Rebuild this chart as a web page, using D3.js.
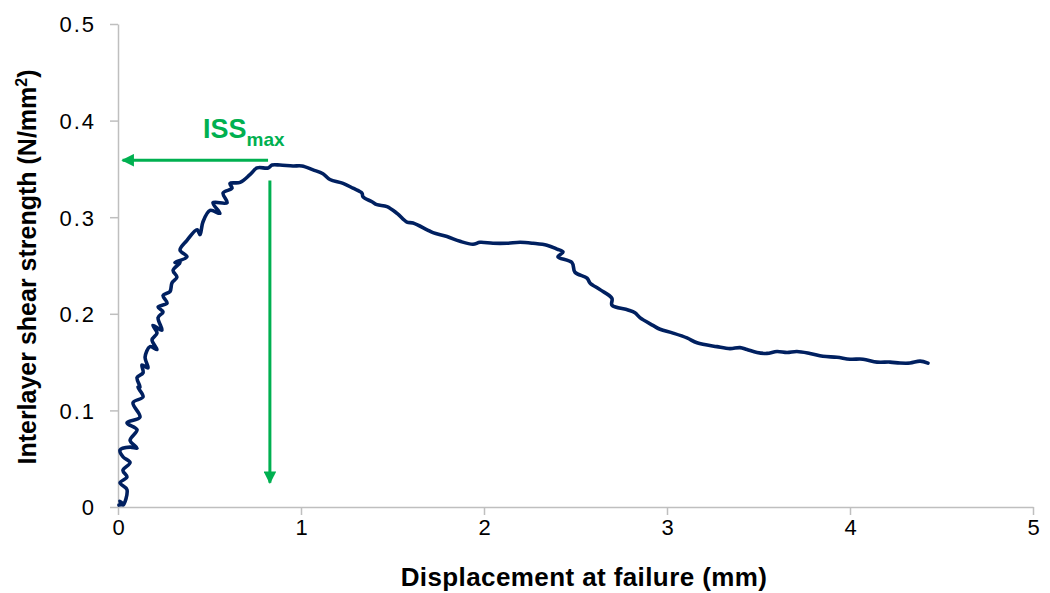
<!DOCTYPE html>
<html><head><meta charset="utf-8">
<script src="https://cdn.jsdelivr.net/npm/d3@7"></script>
<style>body{margin:0;background:#fff}svg{display:block}text{font-family:"Liberation Sans",Arial,sans-serif}</style>
</head><body><svg id="c" width="1050" height="593"></svg>
<script>
// displacement (mm)
const dispX = [0.005,0.025,0.010,0.027,0.049,0.011,0.049,0.027,0.066,0.027,0.011,0.066,0.104,0.066,0.104,0.049,0.120,0.082,0.137,0.109,0.120,0.104,0.137,0.131,0.164,0.148,0.175,0.213,0.186,0.213,0.191,0.240,0.219,0.246,0.219,0.268,0.246,0.284,0.295,0.322,0.301,0.339,0.311,0.377,0.339,0.377,0.432,0.448,0.464,0.503,0.557,0.519,0.596,0.574,0.623,0.612,0.667,0.721,0.760,0.820,0.842,0.885,0.956,1.005,1.066,1.120,1.158,1.230,1.284,1.333,1.339,1.388,1.415,1.470,1.525,1.579,1.612,1.689,1.721,1.798,1.869,1.940,1.978,2.049,2.126,2.197,2.268,2.344,2.399,2.432,2.404,2.481,2.497,2.563,2.579,2.634,2.699,2.699,2.787,2.825,2.852,2.923,2.962,3.033,3.109,3.164,3.273,3.344,3.399,3.437,3.492,3.546,3.601,3.656,3.710,3.781,3.852,3.929,4.000,4.071,4.148,4.219,4.273,4.328,4.383,4.426];
// interlayer shear strength (N/mm2)
const issY = [0.002,0.003,0.006,0.002,0.018,0.025,0.031,0.038,0.046,0.052,0.059,0.062,0.061,0.069,0.080,0.087,0.093,0.108,0.114,0.124,0.124,0.134,0.139,0.147,0.144,0.155,0.166,0.163,0.173,0.180,0.188,0.183,0.196,0.202,0.207,0.211,0.219,0.223,0.232,0.238,0.245,0.253,0.253,0.259,0.266,0.276,0.287,0.282,0.295,0.307,0.304,0.315,0.315,0.325,0.330,0.335,0.336,0.344,0.351,0.351,0.354,0.354,0.353,0.353,0.349,0.345,0.339,0.335,0.330,0.325,0.321,0.316,0.313,0.311,0.304,0.295,0.294,0.287,0.284,0.280,0.275,0.272,0.274,0.273,0.273,0.274,0.273,0.271,0.267,0.264,0.259,0.253,0.243,0.237,0.232,0.225,0.216,0.209,0.204,0.201,0.196,0.188,0.184,0.180,0.175,0.170,0.166,0.164,0.165,0.163,0.160,0.159,0.161,0.160,0.161,0.159,0.156,0.155,0.153,0.153,0.150,0.150,0.149,0.149,0.151,0.149];
const xTicks = [0,1,2,3,4,5];
const yTicks = [0,0.1,0.2,0.3,0.4,0.5];
const yTickLabels = ["0","0.1","0.2","0.3","0.4","0.5"];
// ISSmax annotation arrows: [x1,y1,x2,y2] in data units
const hArrow = [0.82,0.359,0.025,0.359];
const vArrow = [0.83,0.338,0.83,0.025];

const svg = d3.select("#c");
const x = d3.scaleLinear().domain([0,5]).range([118,1033]);
const y = d3.scaleLinear().domain([0,0.5]).range([507,24]);
const axisCol = "#bfbfbf";

const gx = svg.append("g").attr("transform","translate(0,507)")
  .call(d3.axisBottom(x).tickValues(xTicks).tickSize(8).tickSizeOuter(0).tickFormat(d3.format("d")));
const gy = svg.append("g").attr("transform","translate(118,0)")
  .call(d3.axisLeft(y).tickValues(yTicks).tickSize(8).tickSizeOuter(0).tickFormat((d,i)=>yTickLabels[i]));
[gx,gy].forEach(g=>{
  g.select(".domain").attr("stroke",axisCol).attr("stroke-width",1.5);
  g.selectAll(".tick line").attr("stroke",axisCol).attr("stroke-width",1.5);
  g.selectAll(".tick text").attr("fill","#000").style("font-size","22px")
    .style("font-family","Liberation Sans, Arial, sans-serif");
});
gx.selectAll(".tick text").attr("dy","0").attr("y",28);
gy.selectAll(".tick text").attr("x",-22).attr("dy","0.36em").style("letter-spacing","2px");

const pts = dispX.map((d,i)=>[d,issY[i]]);
svg.append("path").datum(pts)
  .attr("fill","none").attr("stroke","#002060").attr("stroke-width",3.6)
  .attr("stroke-linejoin","round").attr("stroke-linecap","round")
  .attr("d", d3.line().x(d=>x(d[0])).y(d=>y(d[1])).curve(d3.curveCatmullRom.alpha(0.5)));

// arrows
const green = "#00b050";
const defs = svg.append("defs");
defs.append("marker").attr("id","ah").attr("viewBox","0 0 10 10").attr("refX",9).attr("refY",5)
  .attr("markerWidth",5.5).attr("markerHeight",4.2).attr("markerUnits","strokeWidth").attr("orient","auto")
  .append("path").attr("d","M0,0L10,5L0,10Z").attr("fill",green);
[hArrow,vArrow].forEach(a=>{
  svg.append("line").attr("x1",x(a[0])).attr("y1",y(a[1])).attr("x2",x(a[2])).attr("y2",y(a[3]))
    .attr("stroke",green).attr("stroke-width",3).attr("marker-end","url(#ah)");
});
const lbl = svg.append("text").attr("x",203).attr("y",138).attr("fill",green)
  .style("font-weight","bold").style("font-size","27px");
lbl.append("tspan").text("ISS");
lbl.append("tspan").attr("dy",8).style("font-size","19px").text("max");

// axis titles
svg.append("text").attr("x",584).attr("y",586).attr("text-anchor","middle")
  .style("font-weight","bold").style("font-size","26px").style("letter-spacing","0.4px")
  .attr("fill","#000").text("Displacement at failure (mm)");
const yt = svg.append("text").attr("transform","translate(36,267) rotate(-90)").attr("text-anchor","middle")
  .style("font-weight","bold").style("font-size","25px").attr("fill","#000");
yt.append("tspan").text("Interlayer shear strength (N/mm");
yt.append("tspan").attr("dy",-9).style("font-size","16px").text("2");
yt.append("tspan").attr("dy",9).text(")");
</script></body></html>
